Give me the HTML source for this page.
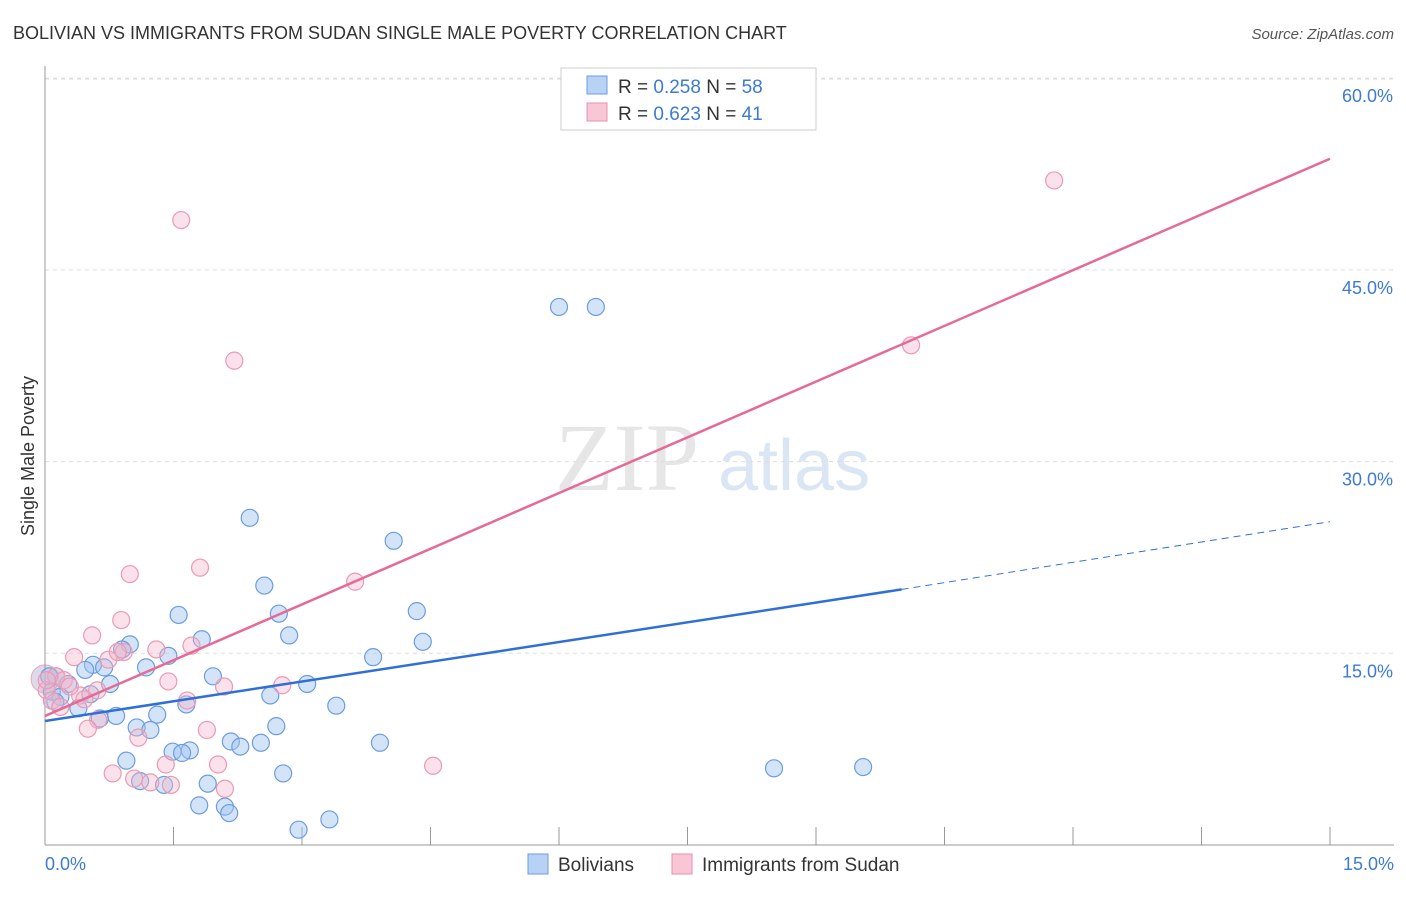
<!DOCTYPE html>
<html><head><meta charset="utf-8"><style>
body{margin:0;background:#fff;font-family:"Liberation Sans",sans-serif}
</style></head><body>
<svg id="chart" width="1406" height="892" xmlns="http://www.w3.org/2000/svg" font-family="Liberation Sans, sans-serif">
<text x="13" y="39" font-size="18" fill="#333">BOLIVIAN VS IMMIGRANTS FROM SUDAN SINGLE MALE POVERTY CORRELATION CHART</text>
<text x="1394" y="39" font-size="15" fill="#555" text-anchor="end" font-style="italic">Source: ZipAtlas.com</text>
<text x="555" y="490" font-size="96" fill="#e6e6e6" font-family="Liberation Serif, serif">ZIP</text>
<text x="718" y="490" font-size="72" fill="#dbe6f5">atlas</text>
<text transform="translate(34,456) rotate(-90)" font-size="18" fill="#333" text-anchor="middle">Single Male Poverty</text>
<g id="grid"></g>
<g id="ticks"></g>
<g id="pts"></g>
<g id="lines"></g>
<g>
<rect x="561" y="68" width="255" height="62" fill="#fff" stroke="#ccc"/>
<rect x="587" y="76" width="20" height="18" fill="#b8d2f5" stroke="#6b9de0"/>
<rect x="587" y="103" width="20" height="18" fill="#f8c6d4" stroke="#e890ac"/>
<text x="618" y="93" font-size="19" fill="#333">R = <tspan fill="#3d7ad6">0.258</tspan>   N = <tspan fill="#3d7ad6">58</tspan></text>
<text x="618" y="120" font-size="19" fill="#333">R = <tspan fill="#3d7ad6">0.623</tspan>   N =  <tspan fill="#3d7ad6">41</tspan></text>
</g>
<g>
<rect x="528" y="854" width="20" height="20" fill="#b8d2f5" stroke="#6b9de0"/>
<text x="558" y="871" font-size="19" fill="#333">Bolivians</text>
<rect x="672" y="854" width="20" height="20" fill="#f8c6d4" stroke="#e890ac"/>
<text x="702" y="871" font-size="19" fill="#333">Immigrants from Sudan</text>
</g>
</svg>
<script>
const yTicks=[15,30,45,60];
const yTickLabels=["15.0%","30.0%","45.0%","60.0%"];
const xTicks=[0,1.5,3,4.5,6,7.5,9,10.5,12,13.5,15];
const blueX=[6.0,6.43,2.39,4.07,2.56,2.73,4.34,1.56,2.85,4.41,1.83,0.99,1.44,0.9,0.56,0.69,1.18,3.83,1.96,0.47,0.13,0.05,0.27,0.76,2.63,3.06,1.65,3.4,0.08,0.18,0.39,0.53,0.83,1.31,0.64,1.07,1.23,2.70,2.17,2.28,2.52,3.91,1.49,1.69,1.6,0.95,2.78,1.9,1.39,1.11,1.8,2.1,2.15,2.96,3.32,8.51,9.55,0.12];
const blueY=[42.1,42.1,25.6,23.8,20.3,18.1,18.3,18.0,16.4,15.9,16.1,15.7,14.8,15.3,14.1,13.9,13.9,14.7,13.2,13.7,13.2,13.2,12.6,12.6,11.7,12.6,11.0,10.9,12.0,11.6,10.7,11.8,10.1,10.2,9.9,9.2,9.0,9.3,8.1,7.7,8.0,8.0,7.3,7.4,7.2,6.6,5.6,4.8,4.7,5.0,3.1,3.0,2.5,1.2,2.0,6.0,6.1,11.2];
const pinkX=[11.78,1.59,2.21,10.11,3.62,1.81,0.99,0.89,0.55,0.34,1.3,0.92,1.71,0.74,1.44,2.09,2.77,1.66,0.13,0.22,0.02,0.41,0.61,0.46,0.08,0.18,0.62,1.89,0.5,1.09,2.02,1.41,4.53,0.79,1.04,1.47,1.23,2.1,0.02,0.85,0.29];
const pinkY=[52.0,48.9,37.9,39.1,20.6,21.7,21.2,17.6,16.4,14.7,15.3,15.1,15.6,14.5,12.8,12.4,12.5,11.3,13.2,12.9,12.1,11.7,12.1,11.4,11.3,10.8,9.8,9.0,9.1,8.4,6.3,6.3,6.2,5.6,5.2,4.7,4.9,4.4,12.9,15.1,12.4];
const blueLine=[9.7,20.0,25.3], pinkLine=[10.1,53.7];
const X0=45,X1=1330,Y0=845,YPX=12.78;
function sx(v){return X0+(X1-X0)*v/15;}
function sy(v){return Y0-v*YPX;}
const NS="http://www.w3.org/2000/svg";
function mk(tag,attrs,parent){const e=document.createElementNS(NS,tag);for(const k in attrs)e.setAttribute(k,attrs[k]);parent.appendChild(e);return e;}
const grid=document.getElementById('grid'),ticks=document.getElementById('ticks');
const gl0=mk('line',{x1:45,x2:1394,y1:79,y2:79,stroke:'#ddd','stroke-dasharray':'4,4'},grid);


yTicks.forEach((t,i)=>{
 const l=mk('line',{x1:45,x2:1394,y1:sy(t),y2:sy(t),stroke:'#ddd','stroke-dasharray':'4,4'},grid);
 
 
 const tx=mk('text',{x:1393,y:sy(t)+24,'font-size':18,fill:'#3d7ad6','text-anchor':'end'},ticks);
 tx.textContent=yTickLabels[i];
 
 
});
const ax=mk('line',{x1:45,x2:45,y1:66,y2:845,stroke:'#999'},ticks);


const bx=mk('line',{x1:45,x2:1394,y1:845,y2:845,stroke:'#999'},ticks);


xTicks.forEach(t=>{
 const l=mk('line',{x1:sx(t),x2:sx(t),y1:827,y2:845,stroke:'#999'},ticks);
 
 
});
const xl=mk('text',{x:45,y:870,'font-size':18,fill:'#3d7ad6'},ticks);xl.textContent='0.0%';


const xr=mk('text',{x:1394,y:870,'font-size':18,fill:'#3d7ad6','text-anchor':'end'},ticks);xr.textContent='15.0%';


const pts=document.getElementById('pts');
const big=mk('circle',{cx:sx(0),cy:sy(13),r:14,fill:'rgba(160,150,200,0.35)',stroke:'rgba(220,130,160,0.6)'},pts);


blueX.forEach((x,i)=>{
 const c=mk('circle',{cx:sx(x),cy:sy(blueY[i]),r:8.5,fill:'rgba(160,195,240,0.45)',stroke:'#6b9de0','stroke-width':1.2},pts);
 
 
});
pinkX.forEach((x,i)=>{
 const c=mk('circle',{cx:sx(x),cy:sy(pinkY[i]),r:8.5,fill:'rgba(245,180,200,0.4)',stroke:'#eb9ab4','stroke-width':1.2},pts);
 
 
});
const lines=document.getElementById('lines');
const b1=mk('line',{x1:sx(0),y1:sy(blueLine[0]),x2:sx(10),y2:sy(blueLine[1]),stroke:'#2f6fd6','stroke-width':2.5},lines);


const b2=mk('line',{x1:sx(10),y1:sy(blueLine[1]),x2:sx(15),y2:sy(blueLine[2]),stroke:'#2f6fd6','stroke-width':1,'stroke-dasharray':'7,5'},lines);


const p1=mk('line',{x1:sx(0),y1:sy(pinkLine[0]),x2:sx(15),y2:sy(pinkLine[1]),stroke:'#e66a96','stroke-width':2.5},lines);


</script>
</body></html>
